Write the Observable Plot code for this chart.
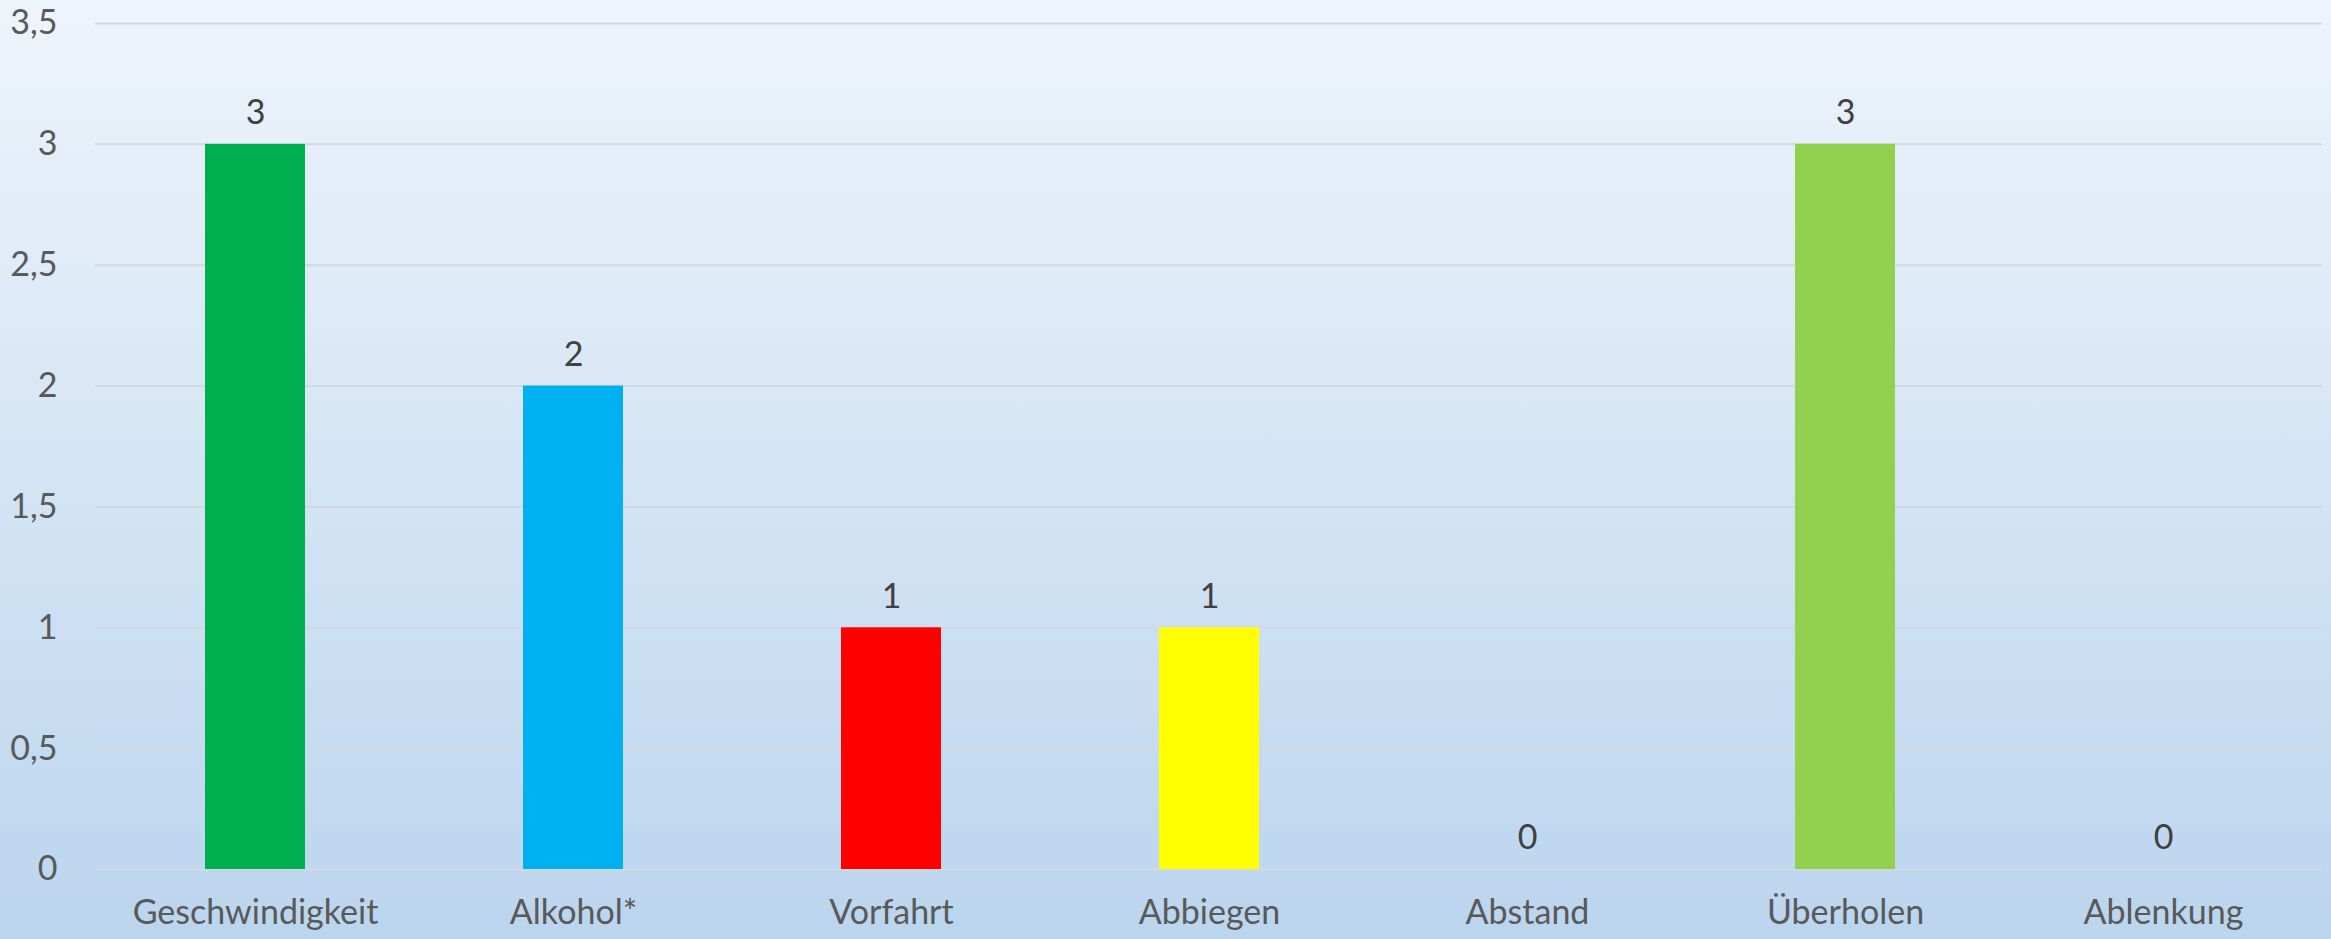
<!DOCTYPE html>
<html>
<head>
<meta charset="utf-8">
<script src="https://cdn.jsdelivr.net/npm/d3@7"></script>
<script src="https://cdn.jsdelivr.net/npm/@observablehq/plot@0.6"></script>
<style>
  html, body { margin: 0; padding: 0; }
  body {
    width: 2331px; height: 939px; overflow: hidden;
    background: linear-gradient(to bottom, #eef4fb 0%, #bbd5ee 100%);
  }
  svg { background: transparent !important; }
</style>
</head>
<body>
<div id="chart"></div>
<script>
const categories = ["Geschwindigkeit", "Alkohol*", "Vorfahrt", "Abbiegen", "Abstand", "Überholen", "Ablenkung"];
const values = [3, 2, 1, 1, 0, 3, 0];
const barColors = ["#00B050", "#00B0F0", "#FF0000", "#FFFF00", "#00B050", "#92D050", "#00B050"];
const yTicks = [0, 0.5, 1, 1.5, 2, 2.5, 3, 3.5];

const data = categories.map((c, i) => ({category: c, value: values[i], color: barColors[i]}));
const fmt = v => String(v).replace(".", ",");

const chart = Plot.plot({
  width: 2331,
  height: 939,
  marginLeft: 95,
  marginRight: 9,
  marginTop: 23,
  marginBottom: 70,
  style: {fontFamily: "Lato, sans-serif", fontSize: "34px", color: "#595959", background: "transparent"},
  x: {domain: categories, paddingInner: 0.686, paddingOuter: 0.343, label: null},
  y: {domain: [0, 3.5], label: null},
  marks: [
    Plot.gridY(yTicks, {stroke: "#d3d8de", strokeOpacity: 1, strokeWidth: 2}),
    Plot.barY(data, {x: "category", y: "value", fill: "color"}),
    Plot.text(data, {x: "category", y: "value", text: d => fmt(d.value), dy: -31, fill: "#404040", fontSize: 34}),
    Plot.axisY(yTicks, {tickSize: 0, tickPadding: 38, tickFormat: fmt, fill: "#595959", fontSize: 34, label: null}),
    Plot.axisX({tickSize: 0, tickPadding: 30, fill: "#595959", fontSize: 34, label: null})
  ]
});
document.getElementById("chart").appendChild(chart);
</script>
</body>
</html>
